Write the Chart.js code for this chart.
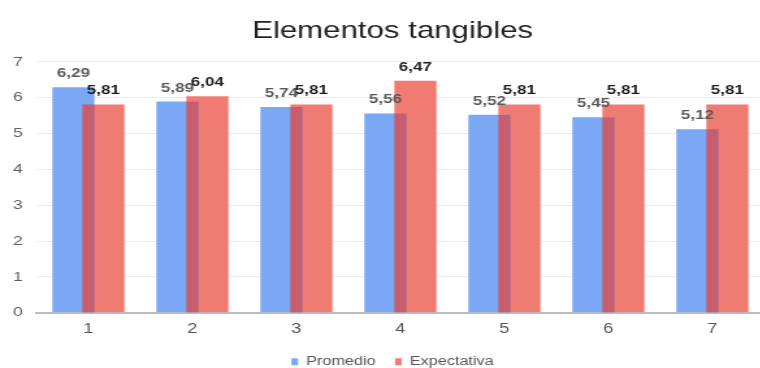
<!DOCTYPE html>
<html>
<head>
<meta charset="utf-8">
<script src="https://cdn.jsdelivr.net/npm/chart.js@4/dist/chart.umd.min.js"></script>
<style>
  html, body { margin: 0; padding: 0; background: #fff; overflow: hidden; width: 760px; height: 368px; }
  #wrap { width: 588px; height: 368px; transform: scaleX(1.3); transform-origin: 0 0; }
</style>
</head>
<body>
<div id="wrap"><canvas id="c" width="588" height="368"></canvas></div>
<script>
const categories = ['1', '2', '3', '4', '5', '6', '7'];
const promedio = [6.29, 5.89, 5.74, 5.56, 5.52, 5.45, 5.12];
const expectativa = [5.81, 6.04, 5.81, 6.47, 5.81, 5.81, 5.81];
const seriesNames = ['Promedio', 'Expectativa'];
const titleText = 'Elementos tangibles';

const BLUE = '#7ba8f5';
const RED = '#f07b72';
const OVERLAP = '#c55d6f';
const FONT = '"Liberation Sans", Arial, sans-serif';

const fmt = v => v.toFixed(2).replace('.', ',');

const overlapPlugin = {
  id: 'overlapAndLabels',
  afterDatasetsDraw(chart) {
    const ctx = chart.ctx;
    const a = chart.getDatasetMeta(0).data;
    const b = chart.getDatasetMeta(1).data;
    ctx.save();
    ctx.fillStyle = OVERLAP;
    a.forEach((barA, i) => {
      const barB = b[i];
      const pa = barA.getProps(['x', 'y', 'base', 'width'], true);
      const pb = barB.getProps(['x', 'y', 'base', 'width'], true);
      const left = Math.max(pa.x - pa.width / 2, pb.x - pb.width / 2);
      const right = Math.min(pa.x + pa.width / 2, pb.x + pb.width / 2);
      const top = Math.max(pa.y, pb.y);
      const bottom = pa.base;
      if (right > left) ctx.fillRect(left, top, right - left, bottom - top);
    });
    ctx.font = 'bold 13px ' + FONT;
    ctx.textAlign = 'center';
    ctx.textBaseline = 'alphabetic';
    const colors = ['#5a5a5a', '#1e1e1e'];
    [0, 1].forEach(di => {
      const meta = chart.getDatasetMeta(di);
      const vals = chart.data.datasets[di].data;
      ctx.fillStyle = colors[di];
      meta.data.forEach((bar, i) => {
        const p = bar.getProps(['x', 'y'], true);
        ctx.fillText(fmt(vals[i]), p.x, p.y - 10);
      });
    });
    ctx.restore();
  }
};

new Chart(document.getElementById('c'), {
  type: 'bar',
  data: {
    labels: categories,
    datasets: [
      { label: seriesNames[0], data: promedio, backgroundColor: BLUE, borderWidth: 0,
        categoryPercentage: 0.576, barPercentage: 1.404 },
      { label: seriesNames[1], data: expectativa, backgroundColor: RED, borderWidth: 0,
        categoryPercentage: 0.576, barPercentage: 1.404 }
    ]
  },
  options: {
    responsive: false,
    animation: false,
    events: [],
    layout: { padding: { left: 16, right: 0, top: 0, bottom: -10 } },
    plugins: {
      title: {
        display: true,
        text: titleText,
        color: '#222',
        font: { family: FONT, size: 24, weight: 'normal' },
        padding: { top: 17, bottom: 16 }
      },
      legend: {
        position: 'bottom',
        labels: {
          color: '#555',
          font: { family: FONT, size: 12.5 },
          boxWidth: 5,
          boxHeight: 7,
          padding: 15
        }
      },
      tooltip: { enabled: false }
    },
    scales: {
      x: {
        afterFit(scale) { scale.height = 27.75; },
        grid: { display: false, drawTicks: false },
        border: { display: true, color: '#bdbdbd', width: 2 },
        ticks: { color: '#555', font: { family: FONT, size: 14 }, padding: 8 }
      },
      y: {
        min: 0,
        max: 7,
        afterFit(scale) { scale.width = 12; },
        grid: { color: '#ebebeb', drawTicks: false },
        border: { display: false },
        ticks: { stepSize: 1, color: '#5f5f5f', font: { family: FONT, size: 13.5 }, mirror: true, padding: -18 }
      }
    }
  },
  plugins: [overlapPlugin]
});
</script>
</body>
</html>
